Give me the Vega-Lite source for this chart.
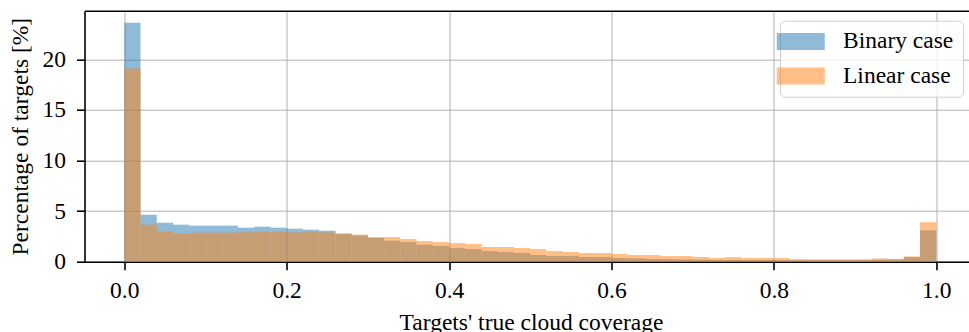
{
  "$schema": "https://vega.github.io/schema/vega-lite/v6.json",
  "width": 884.5,
  "height": 251,
  "autosize": {"type": "none"},
  "padding": {"left": 84.5, "top": 10.7, "right": 0, "bottom": 70.3},
  "background": "white",
  "config": {
    "view": {"stroke": null},
    "font": "Liberation Serif",
    "axis": {
      "labelFont": "Liberation Serif",
      "titleFont": "Liberation Serif",
      "labelFontSize": 23.5,
      "titleFontSize": 23.5,
      "titleFontWeight": "normal",
      "labelColor": "black",
      "titleColor": "black",
      "domainColor": "black",
      "domainWidth": 1.6,
      "tickColor": "black",
      "tickWidth": 1.6,
      "tickSize": 8,
      "gridColor": "#b0b0b0",
      "gridWidth": 1
    },
    "legend": {
      "labelFont": "Liberation Serif",
      "labelFontSize": 23.5,
      "labelColor": "black"
    }
  },
  "datasets": {
    "hist": [
      {"lo": 0.00, "hi": 0.02, "series": "Binary case", "pct": 23.6},
      {"lo": 0.02, "hi": 0.04, "series": "Binary case", "pct": 4.64},
      {"lo": 0.04, "hi": 0.06, "series": "Binary case", "pct": 3.85},
      {"lo": 0.06, "hi": 0.08, "series": "Binary case", "pct": 3.66},
      {"lo": 0.08, "hi": 0.10, "series": "Binary case", "pct": 3.56},
      {"lo": 0.10, "hi": 0.12, "series": "Binary case", "pct": 3.56},
      {"lo": 0.12, "hi": 0.14, "series": "Binary case", "pct": 3.56},
      {"lo": 0.14, "hi": 0.16, "series": "Binary case", "pct": 3.36},
      {"lo": 0.16, "hi": 0.18, "series": "Binary case", "pct": 3.46},
      {"lo": 0.18, "hi": 0.20, "series": "Binary case", "pct": 3.36},
      {"lo": 0.20, "hi": 0.22, "series": "Binary case", "pct": 3.26},
      {"lo": 0.22, "hi": 0.24, "series": "Binary case", "pct": 3.16},
      {"lo": 0.24, "hi": 0.26, "series": "Binary case", "pct": 3.06},
      {"lo": 0.26, "hi": 0.28, "series": "Binary case", "pct": 2.77},
      {"lo": 0.28, "hi": 0.30, "series": "Binary case", "pct": 2.60},
      {"lo": 0.30, "hi": 0.32, "series": "Binary case", "pct": 2.34},
      {"lo": 0.32, "hi": 0.34, "series": "Binary case", "pct": 2.08},
      {"lo": 0.34, "hi": 0.36, "series": "Binary case", "pct": 1.94},
      {"lo": 0.36, "hi": 0.38, "series": "Binary case", "pct": 1.68},
      {"lo": 0.38, "hi": 0.40, "series": "Binary case", "pct": 1.55},
      {"lo": 0.40, "hi": 0.42, "series": "Binary case", "pct": 1.35},
      {"lo": 0.42, "hi": 0.44, "series": "Binary case", "pct": 1.25},
      {"lo": 0.44, "hi": 0.46, "series": "Binary case", "pct": 1.05},
      {"lo": 0.46, "hi": 0.48, "series": "Binary case", "pct": 0.96},
      {"lo": 0.48, "hi": 0.50, "series": "Binary case", "pct": 0.86},
      {"lo": 0.50, "hi": 0.52, "series": "Binary case", "pct": 0.66},
      {"lo": 0.52, "hi": 0.54, "series": "Binary case", "pct": 0.56},
      {"lo": 0.54, "hi": 0.56, "series": "Binary case", "pct": 0.56},
      {"lo": 0.56, "hi": 0.58, "series": "Binary case", "pct": 0.46},
      {"lo": 0.58, "hi": 0.60, "series": "Binary case", "pct": 0.46},
      {"lo": 0.60, "hi": 0.62, "series": "Binary case", "pct": 0.36},
      {"lo": 0.62, "hi": 0.64, "series": "Binary case", "pct": 0.33},
      {"lo": 0.64, "hi": 0.66, "series": "Binary case", "pct": 0.28},
      {"lo": 0.66, "hi": 0.68, "series": "Binary case", "pct": 0.24},
      {"lo": 0.68, "hi": 0.70, "series": "Binary case", "pct": 0.22},
      {"lo": 0.70, "hi": 0.72, "series": "Binary case", "pct": 0.20},
      {"lo": 0.72, "hi": 0.74, "series": "Binary case", "pct": 0.18},
      {"lo": 0.74, "hi": 0.76, "series": "Binary case", "pct": 0.18},
      {"lo": 0.76, "hi": 0.78, "series": "Binary case", "pct": 0.17},
      {"lo": 0.78, "hi": 0.80, "series": "Binary case", "pct": 0.17},
      {"lo": 0.80, "hi": 0.82, "series": "Binary case", "pct": 0.16},
      {"lo": 0.82, "hi": 0.84, "series": "Binary case", "pct": 0.15},
      {"lo": 0.84, "hi": 0.86, "series": "Binary case", "pct": 0.15},
      {"lo": 0.86, "hi": 0.88, "series": "Binary case", "pct": 0.15},
      {"lo": 0.88, "hi": 0.90, "series": "Binary case", "pct": 0.15},
      {"lo": 0.90, "hi": 0.92, "series": "Binary case", "pct": 0.16},
      {"lo": 0.92, "hi": 0.94, "series": "Binary case", "pct": 0.20},
      {"lo": 0.94, "hi": 0.96, "series": "Binary case", "pct": 0.22},
      {"lo": 0.96, "hi": 0.98, "series": "Binary case", "pct": 0.45},
      {"lo": 0.98, "hi": 1.00, "series": "Binary case", "pct": 3.10},
      {"lo": 0.00, "hi": 0.02, "series": "Linear case", "pct": 19.1},
      {"lo": 0.02, "hi": 0.04, "series": "Linear case", "pct": 3.66},
      {"lo": 0.04, "hi": 0.06, "series": "Linear case", "pct": 2.96},
      {"lo": 0.06, "hi": 0.08, "series": "Linear case", "pct": 2.77},
      {"lo": 0.08, "hi": 0.10, "series": "Linear case", "pct": 2.87},
      {"lo": 0.10, "hi": 0.12, "series": "Linear case", "pct": 2.87},
      {"lo": 0.12, "hi": 0.14, "series": "Linear case", "pct": 2.87},
      {"lo": 0.14, "hi": 0.16, "series": "Linear case", "pct": 2.90},
      {"lo": 0.16, "hi": 0.18, "series": "Linear case", "pct": 2.96},
      {"lo": 0.18, "hi": 0.20, "series": "Linear case", "pct": 2.96},
      {"lo": 0.20, "hi": 0.22, "series": "Linear case", "pct": 2.90},
      {"lo": 0.22, "hi": 0.24, "series": "Linear case", "pct": 2.96},
      {"lo": 0.24, "hi": 0.26, "series": "Linear case", "pct": 2.90},
      {"lo": 0.26, "hi": 0.28, "series": "Linear case", "pct": 2.77},
      {"lo": 0.28, "hi": 0.30, "series": "Linear case", "pct": 2.67},
      {"lo": 0.30, "hi": 0.32, "series": "Linear case", "pct": 2.44},
      {"lo": 0.32, "hi": 0.34, "series": "Linear case", "pct": 2.44},
      {"lo": 0.34, "hi": 0.36, "series": "Linear case", "pct": 2.24},
      {"lo": 0.36, "hi": 0.38, "series": "Linear case", "pct": 2.04},
      {"lo": 0.38, "hi": 0.40, "series": "Linear case", "pct": 1.94},
      {"lo": 0.40, "hi": 0.42, "series": "Linear case", "pct": 1.84},
      {"lo": 0.42, "hi": 0.44, "series": "Linear case", "pct": 1.75},
      {"lo": 0.44, "hi": 0.46, "series": "Linear case", "pct": 1.45},
      {"lo": 0.46, "hi": 0.48, "series": "Linear case", "pct": 1.45},
      {"lo": 0.48, "hi": 0.50, "series": "Linear case", "pct": 1.35},
      {"lo": 0.50, "hi": 0.52, "series": "Linear case", "pct": 1.25},
      {"lo": 0.52, "hi": 0.54, "series": "Linear case", "pct": 1.05},
      {"lo": 0.54, "hi": 0.56, "series": "Linear case", "pct": 0.96},
      {"lo": 0.56, "hi": 0.58, "series": "Linear case", "pct": 0.86},
      {"lo": 0.58, "hi": 0.60, "series": "Linear case", "pct": 0.86},
      {"lo": 0.60, "hi": 0.62, "series": "Linear case", "pct": 0.76},
      {"lo": 0.62, "hi": 0.64, "series": "Linear case", "pct": 0.66},
      {"lo": 0.64, "hi": 0.66, "series": "Linear case", "pct": 0.66},
      {"lo": 0.66, "hi": 0.68, "series": "Linear case", "pct": 0.56},
      {"lo": 0.68, "hi": 0.70, "series": "Linear case", "pct": 0.56},
      {"lo": 0.70, "hi": 0.72, "series": "Linear case", "pct": 0.47},
      {"lo": 0.72, "hi": 0.74, "series": "Linear case", "pct": 0.38},
      {"lo": 0.74, "hi": 0.76, "series": "Linear case", "pct": 0.45},
      {"lo": 0.76, "hi": 0.78, "series": "Linear case", "pct": 0.37},
      {"lo": 0.78, "hi": 0.80, "series": "Linear case", "pct": 0.37},
      {"lo": 0.80, "hi": 0.82, "series": "Linear case", "pct": 0.36},
      {"lo": 0.82, "hi": 0.84, "series": "Linear case", "pct": 0.25},
      {"lo": 0.84, "hi": 0.86, "series": "Linear case", "pct": 0.24},
      {"lo": 0.86, "hi": 0.88, "series": "Linear case", "pct": 0.24},
      {"lo": 0.88, "hi": 0.90, "series": "Linear case", "pct": 0.24},
      {"lo": 0.90, "hi": 0.92, "series": "Linear case", "pct": 0.24},
      {"lo": 0.92, "hi": 0.94, "series": "Linear case", "pct": 0.32},
      {"lo": 0.94, "hi": 0.96, "series": "Linear case", "pct": 0.27},
      {"lo": 0.96, "hi": 0.98, "series": "Linear case", "pct": 0.52},
      {"lo": 0.98, "hi": 1.00, "series": "Linear case", "pct": 3.90}
    ]
  },
  "data": {"name": "hist"},
  "layer": [
    {
      "transform": [{"filter": "datum.series === 'Binary case'"}],
      "mark": {"type": "bar", "opacity": 0.5},
      "encoding": {
        "x": {
          "field": "lo",
          "type": "quantitative",
          "scale": {"domain": [-0.049, 1.0403], "nice": false, "zero": false},
          "axis": {
            "orient": "bottom",
            "values": [0, 0.2, 0.4, 0.6, 0.8, 1.0],
            "format": ".1f",
            "title": "Targets' true cloud coverage",
            "titleX": 446.5,
            "labelPadding": 9,
            "titlePadding": 8,
            "grid": true
          }
        },
        "x2": {"field": "hi"},
        "y": {
          "field": "pct",
          "type": "quantitative",
          "stack": null,
          "scale": {"domain": [0, 24.8], "nice": false},
          "axis": {
            "values": [0, 5, 10, 15, 20],
            "title": "Percentage of targets [%]",
            "labelPadding": 11,
            "titlePadding": 10,
            "grid": true
          }
        },
        "y2": {"datum": 0},
        "color": {
          "field": "series",
          "type": "nominal",
          "scale": {"domain": ["Binary case", "Linear case"], "range": ["#1f77b4", "#ff7f0e"]},
          "legend": {
            "title": null,
            "orient": "none",
            "legendX": 695.5,
            "legendY": 10,
            "symbolType": "M-2.824,-1H2.824V1H-2.824Z",
            "symbolSize": 289,
            "symbolOpacity": 0.5,
            "symbolStrokeWidth": 0,
            "labelOffset": 30.5,
            "rowPadding": 9.5,
            "padding": 9,
            "strokeColor": "#d0d0d0",
            "cornerRadius": 5,
            "fillColor": "rgba(255,255,255,0.8)"
          }
        }
      }
    },
    {
      "transform": [{"filter": "datum.series === 'Linear case'"}],
      "mark": {"type": "bar", "opacity": 0.5},
      "encoding": {
        "x": {
          "field": "lo",
          "type": "quantitative",
          "scale": {"domain": [-0.049, 1.0403], "nice": false, "zero": false},
          "axis": {"orient": "top", "labels": false, "ticks": false, "grid": false, "domain": true, "title": null}
        },
        "x2": {"field": "hi"},
        "y": {
          "field": "pct",
          "type": "quantitative",
          "stack": null,
          "scale": {"domain": [0, 24.8], "nice": false}
        },
        "y2": {"datum": 0},
        "color": {"field": "series", "type": "nominal"}
      }
    }
  ],
  "resolve": {"axis": {"x": "independent"}}
}
